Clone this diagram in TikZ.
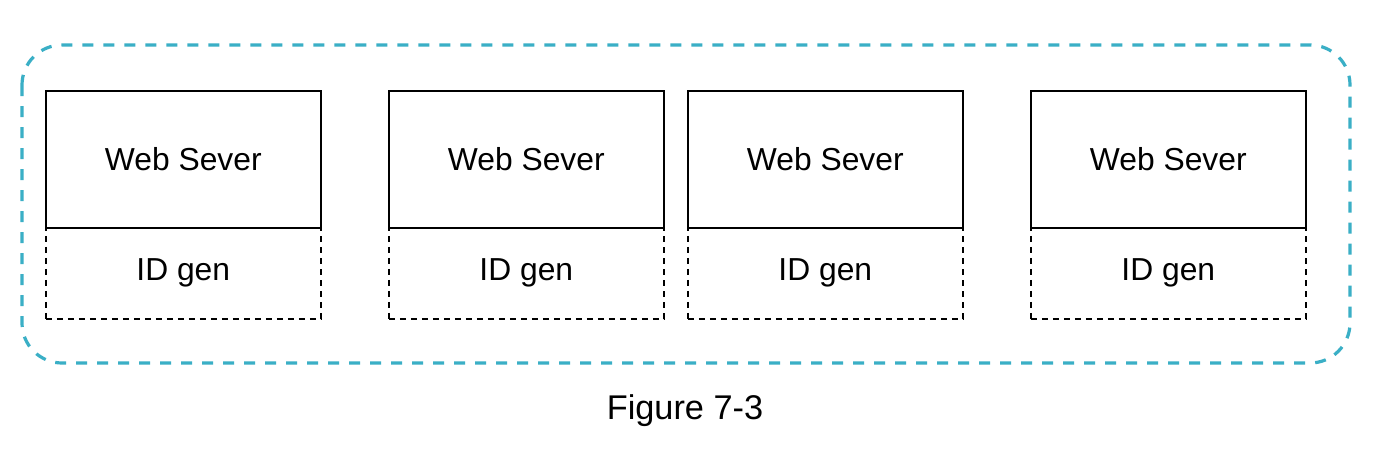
\documentclass[tikz,border=0pt]{standalone}
\usepackage{fontspec}
\setmainfont{Liberation Sans}
\definecolor{teal1}{HTML}{3AAFC6}
\begin{document}
\begin{tikzpicture}[x=1pt,y=-1pt,
  web/.style={draw=black,line width=1.6pt,rectangle,minimum width=275pt,minimum height=137pt,inner sep=0pt,font=\fontsize{31.8}{36}\selectfont,anchor=north west},
  idg/.style={draw=black,line width=1.6pt,dash pattern=on 6pt off 5pt,rectangle,minimum width=275pt,minimum height=91pt,inner sep=0pt,font=\fontsize{31.8}{36}\selectfont,anchor=north west},
  outer/.style={draw=teal1,line width=3.2pt,dash pattern=on 11pt off 10pt,rounded corners=40pt}]
\useasboundingbox (0,0) rectangle (1394,458);
\fill[white] (0,0) rectangle (1394,458);
\draw[outer] (22,45) rectangle (1350,363);
\node[idg] (i1) at (45,227) {ID gen};
\node[idg] (i2) at (388,227) {ID gen};
\node[idg] (i3) at (687,227) {ID gen};
\node[idg] (i4) at (1030,227) {ID gen};
\node[web] (w1) at (45,90) {Web Sever};
\node[web] (w2) at (388,90) {Web Sever};
\node[web] (w3) at (687,90) {Web Sever};
\node[web] (w4) at (1030,90) {Web Sever};
\node[font=\fontsize{34.3}{40}\selectfont] (cap) at (685,411) {Figure 7-3};
\end{tikzpicture}
\end{document}
